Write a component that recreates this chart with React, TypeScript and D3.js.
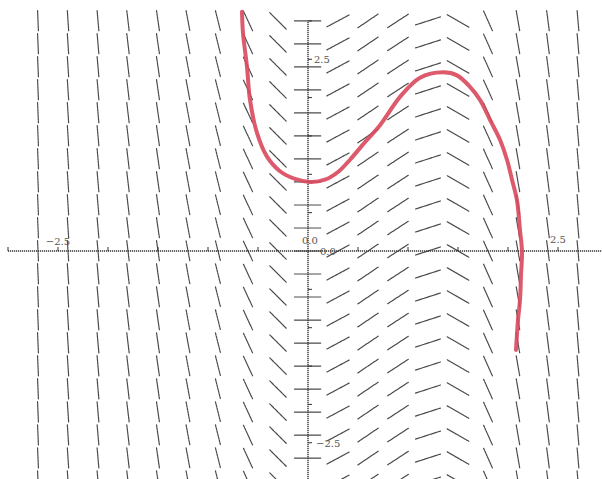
import React from 'react';
import * as d3 from 'd3';

// slope field columns (x) and the slope
const columnX = [-2.7, -2.4, -2.1, -1.8, -1.5, -1.2, -0.9, -0.6, -0.3, 0, 0.3, 0.6, 0.9, 1.2, 1.5, 1.8, 2.1, 2.4, 2.7];
const columnSlope = [-30, -20, -15, -11, -9, -7, -5.2, -2.8, -1.3, 0, 0.7, 0.88, 0.85, 0.42, -0.75, -2.9, -7.5, -10, -15];
// rows of the field
const rowY = [-3.0, -2.7, -2.4, -2.1, -1.8, -1.5, -1.2, -0.9, -0.6, -0.3, 0, 0.3, 0.6, 0.9, 1.2, 1.5, 1.8, 2.1, 2.4, 2.7, 3.0];

// hand drawn solution curve (red)
const curveX = [-0.66, -0.65, -0.61, -0.58, -0.51, -0.41, -0.28, -0.13, 0.02, 0.17, 0.3, 0.42, 0.57, 0.72, 0.92, 1.12, 1.35, 1.49, 1.62, 1.72, 1.82, 1.92, 1.99, 2.04, 2.09, 2.12, 2.14, 2.13, 2.12, 2.1, 2.08];
const curveY = [3.12, 2.84, 2.4, 1.97, 1.54, 1.23, 1.04, 0.94, 0.9, 0.93, 1.03, 1.19, 1.42, 1.64, 2.01, 2.26, 2.33, 2.29, 2.14, 1.97, 1.71, 1.45, 1.19, 0.93, 0.66, 0.27, -0.01, -0.31, -0.64, -0.9, -1.29];

const xTicks = [-3, -2.5, -2, -1.5, -1, -0.5, 0.5, 1, 1.5, 2, 2.5, 3];
const yTicks = [-3, -2.5, -2, -1.5, -1, -0.5, 0.5, 1, 1.5, 2, 2.5, 3];

const W = 602;
const H = 479;
const SEG = 0.27; // segment length in data units

export default function App() {
  const x = d3.scaleLinear().domain([0, 1]).range([308, 408]);
  const y = d3.scaleLinear().domain([0, 1]).range([251, 174.3]);

  const segments: { x1: number; y1: number; x2: number; y2: number }[] = [];
  columnX.forEach((cx, i) => {
    const m = columnSlope[i];
    const dx = SEG / 2 / Math.sqrt(1 + m * m);
    const dy = m * dx;
    rowY.forEach((ry) => {
      segments.push({ x1: x(cx - dx), y1: y(ry - dy), x2: x(cx + dx), y2: y(ry + dy) });
    });
  });

  const line = d3
    .line<number>()
    .x((_, i) => x(curveX[i]))
    .y((_, i) => y(curveY[i]))
    .curve(d3.curveCatmullRom.alpha(0.5));

  const labelStyle = { fontFamily: 'DejaVu Serif, serif', fontSize: 10, fill: '#555' };

  return (
    <svg width={W} height={H} style={{ position: 'absolute', left: 0, top: 0, background: '#fff' }}>
      <g stroke="#2a2a2a" strokeWidth={1.2} strokeLinecap="round" strokeDasharray="2.2,0.8" opacity={0.85}>
        {segments.map((s, i) => (
          <line key={i} x1={s.x1} y1={s.y1} x2={s.x2} y2={s.y2} />
        ))}
      </g>

      {/* axes */}
      <g stroke="#333" strokeWidth={1.4} strokeDasharray="1.2,0.8">
        <line x1={8} x2={W} y1={y(0)} y2={y(0)} />
        <line x1={x(0)} x2={x(0)} y1={22} y2={H} />
      </g>
      <g stroke="#333" strokeWidth={1}>
        {xTicks.map((t) => (
          <line key={'xt' + t} x1={x(t)} x2={x(t)} y1={y(0)} y2={y(0) - 4} />
        ))}
        {yTicks.map((t) => (
          <line key={'yt' + t} x1={x(0)} x2={x(0) + 4} y1={y(t)} y2={y(t)} />
        ))}
      </g>

      <g style={labelStyle}>
        <text x={x(-2.5)} y={y(0) - 6} textAnchor="middle">−2.5</text>
        <text x={x(2.5)} y={y(0) - 8} textAnchor="middle">2.5</text>
        <text x={x(0) + 6} y={y(2.5) + 4}>2.5</text>
        <text x={x(0) + 8} y={y(-2.5) + 4}>−2.5</text>
        <text x={x(0) - 6} y={y(0) - 7}>0.0</text>
        <text x={x(0) + 12} y={y(0) + 4}>0.0</text>
      </g>

      <path
        d={line(curveX) ?? ''}
        fill="none"
        stroke="#d9475c"
        strokeWidth={4}
        strokeLinecap="round"
        strokeLinejoin="round"
        opacity={0.9}
      />
    </svg>
  );
}
